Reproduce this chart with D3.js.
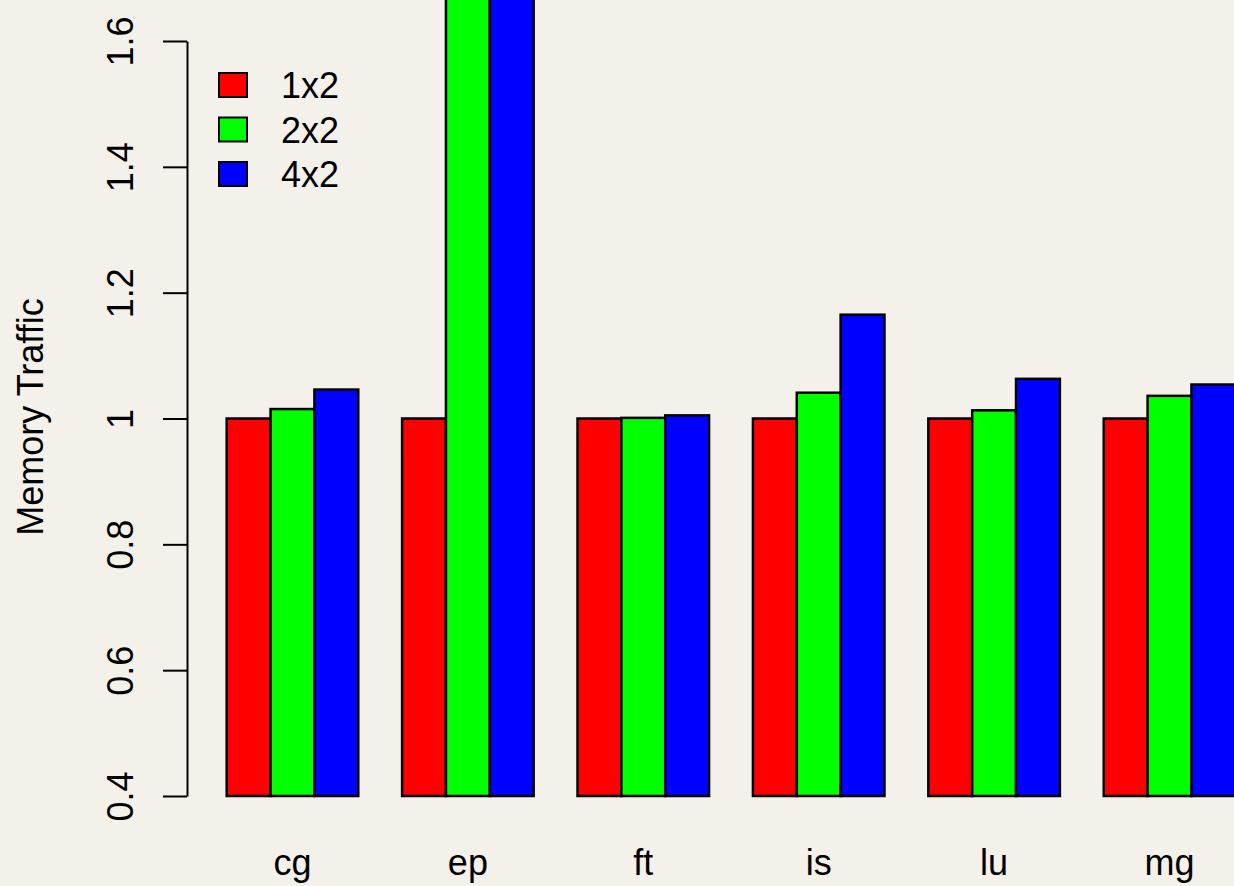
<!DOCTYPE html>
<html>
<head>
<meta charset="utf-8">
<script src="https://cdn.jsdelivr.net/npm/d3@7"></script>
<style>
  html, body { margin: 0; padding: 0; background: #f4f1eb; }
  svg { display: block; font-family: 'Liberation Sans', Arial, Helvetica, sans-serif; }
</style>
</head>
<body>
<svg width="1234" height="886"></svg>
<script>
// benchmarks and configurations
const benchmarks = ['cg', 'ep', 'ft', 'is', 'lu', 'mg'];
const configs = ['1x2', '2x2', '4x2'];
const configColours = ['#ff0000', '#00ff00', '#0000ff'];

// normalised memory traffic, one list per configuration
const traffic1x2 = [1.000, 1.000, 1.000, 1.000, 1.000, 1.000];
const traffic2x2 = [1.015, 1.950, 1.001, 1.041, 1.013, 1.036];
const traffic4x2 = [1.046, 2.050, 1.005, 1.165, 1.063, 1.054];

const yTicks = [0.4, 0.6, 0.8, 1.0, 1.2, 1.4, 1.6];

const seriesValues = [traffic1x2, traffic2x2, traffic4x2];
const rows = benchmarks.map((b, i) => ({
    bench: b,
    values: configs.map((c, j) => ({ config: c, value: seriesValues[j][i] }))
}));

const svg = d3.select('svg');
const FONT_SIZE = 36;

const X0 = d3.scaleBand()
    .domain(benchmarks)
    .range([226.7, 1235.3])
    .paddingInner(0.25)
    .paddingOuter(0);

const X1 = d3.scaleBand()
    .domain(configs)
    .range([0, X0.bandwidth()]);

const COLOUR = d3.scaleOrdinal()
    .domain(configs)
    .range(configColours);

const Y_SCALE = d3.scaleLinear()
    .domain([0.4, 1.6])
    .range([796, 41]);

// bars
svg.append('g')
    .selectAll('g')
    .data(rows)
    .join('g')
    .attr('transform', d => `translate(${X0(d.bench)},0)`)
    .selectAll('rect')
    .data(d => d.values)
    .join('rect')
    .attr('x', d => X1(d.config))
    .attr('y', d => Y_SCALE(d.value))
    .attr('width', X1.bandwidth())
    .attr('height', d => Y_SCALE(0.4) - Y_SCALE(d.value))
    .attr('fill', d => COLOUR(d.config))
    .attr('stroke', '#000')
    .attr('stroke-width', 2.5);

// y axis
const yAxis = svg.append('g')
    .attr('transform', 'translate(187,0)')
    .call(d3.axisLeft(Y_SCALE)
        .tickValues(yTicks)
        .tickSize(24)
        .tickSizeOuter(0)
        .tickFormat(d => d === 1 ? '1' : d3.format('.1f')(d)));

yAxis.select('.domain').attr('stroke', '#000').attr('stroke-width', 2);
yAxis.selectAll('.tick line').attr('stroke', '#000').attr('stroke-width', 2);
yAxis.selectAll('.tick text')
    .attr('x', null)
    .attr('dy', null)
    .attr('transform', 'translate(-54,0) rotate(-90)')
    .style('text-anchor', 'middle')
    .style('font-size', FONT_SIZE + 'px')
    .style('fill', '#000');

svg.append('text')
    .attr('transform', 'translate(43,417) rotate(-90)')
    .style('text-anchor', 'middle')
    .style('font-size', FONT_SIZE + 'px')
    .text('Memory Traffic');

// x labels
svg.append('g')
    .selectAll('text')
    .data(benchmarks)
    .join('text')
    .attr('x', d => X0(d) + X0.bandwidth() / 2)
    .attr('y', 875)
    .style('text-anchor', 'middle')
    .style('font-size', FONT_SIZE + 'px')
    .text(d => d);

// legend
const legend = svg.append('g')
    .selectAll('g')
    .data(configs)
    .join('g')
    .attr('transform', (d, i) => `translate(219,${73 + i * 44.5})`);

legend.append('rect')
    .attr('width', 28)
    .attr('height', 24)
    .attr('fill', d => COLOUR(d))
    .attr('stroke', '#000')
    .attr('stroke-width', 2);

legend.append('text')
    .attr('x', 62)
    .attr('y', 25)
    .style('font-size', FONT_SIZE + 'px')
    .text(d => d);
</script>
</body>
</html>
